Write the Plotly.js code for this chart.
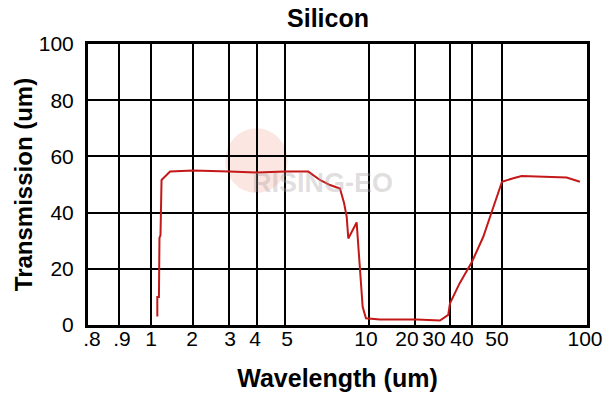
<!DOCTYPE html>
<html>
<head>
<meta charset="utf-8">
<script src="https://cdn.plot.ly/plotly-3.0.1.min.js"></script>
<style>html,body{margin:0;padding:0;background:#fff;}#chart{width:608px;height:398px;}</style>
</head>
<body>
<div id="chart"></div>
<script>
// ---- data ----
const wavelength = [1.11, 1.11, 1.14, 1.15, 1.17, 1.19, 1.37, 2.0, 3.0, 4.0, 5.0, 6.06, 6.67, 7.25, 7.87, 8.14, 8.32, 8.43, 9.03, 9.16, 9.29, 9.49, 9.75, 11.8, 13.7, 20.4, 26.7, 29.4, 30.0, 34.0, 40.0, 43.5, 46.9, 50.0, 54.8, 58.7, 84.7, 94.4];
const transmission = [3, 10, 10, 31, 32, 51.6, 54.6, 55.0, 54.6, 54.3, 54.6, 54.6, 51.6, 49.8, 48.6, 43.4, 38.5, 30.8, 36.5, 27.0, 17.2, 6.5, 2.4, 2.0, 2.0, 2.0, 1.6, 3.6, 7.7, 14.8, 22.5, 31.4, 42.0, 51.0, 52.2, 53.0, 52.5, 51.0];

// x tick labels and the wavelengths at the chart's (non-uniform) grid lines
const gridWavelengths = [0.8, 0.9, 1, 2, 3, 4, 5, 10, 20, 30, 40, 50, 100];
const tickLabels = ['.8', '.9', '1', '2', '3', '4', '5', '10', '20', '30', '40', '50', '100'];
const yTicks = [0, 20, 40, 60, 80, 100];

// ---- layout of the chart's custom x scale (axis units along the plot width) ----
const gridUnits = [0, 31, 63, 105, 141, 169, 197, 281, 327, 362, 384, 414, 499];
const labelUnits = [4, 34, 63, 104, 142, 167, 199, 278, 319, 346, 374, 409, 497];

// piecewise-logarithmic scale between grid lines
function toUnits(w) {
  for (let i = 0; i < gridWavelengths.length - 1; i++) {
    const a = gridWavelengths[i], b = gridWavelengths[i + 1];
    if (w <= b || i === gridWavelengths.length - 2) {
      const f = Math.log(w / a) / Math.log(b / a);
      return gridUnits[i] + f * (gridUnits[i + 1] - gridUnits[i]);
    }
  }
}
const xu = wavelength.map(toUnits);

const tickFont = {family: 'Liberation Sans, Arial, sans-serif', size: 21, color: '#000'};
const titleFont = {family: 'Liberation Sans, Arial, sans-serif', size: 25, color: '#000', weight: 'bold'};

const traces = [
  {x: xu, y: transmission, xaxis: 'x', yaxis: 'y', mode: 'lines',
   line: {color: '#c41818', width: 2}, hoverinfo: 'skip', showlegend: false},
  {x: xu, y: transmission, xaxis: 'x2', yaxis: 'y', mode: 'lines',
   line: {color: 'rgba(0,0,0,0)', width: 0}, hoverinfo: 'skip', showlegend: false}
];

const layout = {
  width: 608, height: 398,
  margin: {l: 88, r: 21, t: 44, b: 73, pad: 0},
  paper_bgcolor: '#fff', plot_bgcolor: '#fff',
  showlegend: false,
  title: {text: '<b>Silicon</b>', font: titleFont, x: 328 / 608, xanchor: 'center',
          xref: 'container', yref: 'container', y: 1 - 18 / 398, yanchor: 'middle'},
  xaxis: {
    range: [0, 499], tickmode: 'array', tickvals: labelUnits, ticktext: tickLabels,
    showgrid: false, zeroline: false, showline: true, mirror: true,
    linecolor: '#000', linewidth: 3, ticks: '', ticklabelstandoff: -7,
    tickfont: tickFont, fixedrange: true, automargin: false,
    title: {text: '<b>Wavelength (um)</b>', font: titleFont, standoff: 21}
  },
  xaxis2: {
    overlaying: 'x', side: 'bottom', range: [0, 499], tickmode: 'array', tickvals: gridUnits,
    showgrid: true, gridcolor: '#000', gridwidth: 2, showticklabels: false, ticks: '',
    zeroline: false, showline: false, fixedrange: true, automargin: false
  },
  yaxis: {
    range: [0, 100], tickmode: 'array', tickvals: yTicks, ticktext: yTicks.map(String),
    showgrid: true, gridcolor: '#000', gridwidth: 2, zeroline: false,
    showline: true, mirror: true, linecolor: '#000', linewidth: 3,
    ticks: 'outside', ticklen: 7, tickcolor: 'rgba(0,0,0,0)',
    tickfont: tickFont, fixedrange: true, automargin: false,
    title: {text: '<b>Transmission (um)</b>', font: {family: titleFont.family, size: 24, color: '#000'}, standoff: 0}
  },
  shapes: [
    {type: 'circle', xref: 'paper', yref: 'paper', layer: 'below',
     x0: 0.275, x1: 0.40, y0: 0.47, y1: 0.70,
     fillcolor: 'rgba(240,140,120,0.22)', line: {width: 0}}
  ],
  annotations: [
    {xref: 'paper', yref: 'paper', x: 0.47, y: 0.505, xanchor: 'center', yanchor: 'middle',
     text: '<b>RISING-EO</b>', showarrow: false,
     font: {family: 'Liberation Sans, Arial, sans-serif', size: 27, color: 'rgba(170,160,165,0.35)'}}
  ]
};

Plotly.newPlot('chart', traces, layout, {staticPlot: true, displayModeBar: false});
</script>
</body>
</html>
